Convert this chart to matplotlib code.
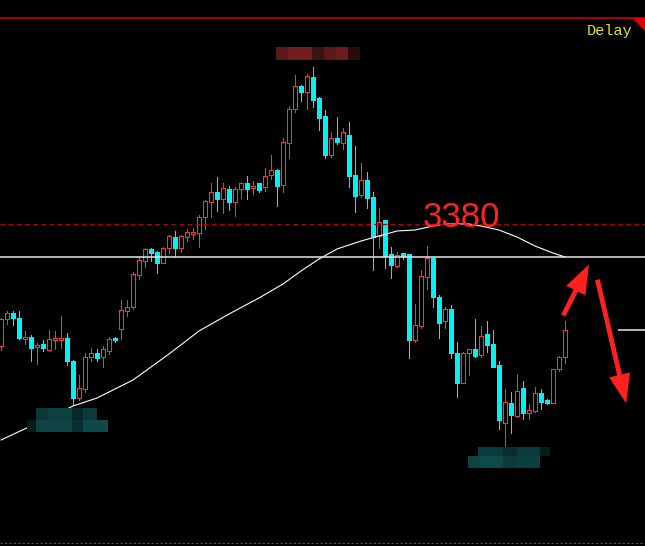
import numpy as np
import matplotlib.pyplot as plt
from matplotlib.patches import Rectangle, Polygon, FancyArrowPatch

############## Dados ####################

opens = [3258, 3285, 3291, 3286, 3265, 3267, 3257, 3260, 3254, 3264,
         3264, 3266, 3243, 3206, 3215, 3247, 3251, 3247, 3253, 3266,
         3275, 3293, 3297, 3329, 3343, 3355, 3352, 3341, 3356, 3367,
         3356, 3367, 3370, 3371, 3387, 3402, 3412, 3405, 3415, 3402,
         3415, 3421, 3416, 3421, 3417, 3429, 3434, 3419, 3461, 3495,
         3518, 3512, 3527, 3506, 3488, 3449, 3466, 3461, 3469, 3429,
         3409, 3424, 3407, 3368, 3384, 3350, 3338, 3351, 3350, 3264,
         3278, 3327, 3346, 3307, 3283, 3295, 3251, 3221, 3251, 3255,
         3249, 3270, 3260, 3239, 3181, 3201, 3188, 3216, 3191, 3193,
         3211, 3204, 3201, 3235, 3247]

highs = [3286, 3293, 3293, 3293, 3273, 3269, 3261, 3264, 3274, 3273,
         3288, 3271, 3244, 3229, 3251, 3256, 3255, 3258, 3267, 3267,
         3304, 3304, 3332, 3347, 3356, 3356, 3353, 3357, 3369, 3373,
         3369, 3375, 3376, 3389, 3404, 3421, 3427, 3421, 3418, 3417,
         3422, 3428, 3423, 3421, 3436, 3449, 3435, 3466, 3498, 3529,
         3519, 3530, 3537, 3507, 3494, 3472, 3487, 3476, 3482, 3458,
         3441, 3432, 3412, 3396, 3384, 3357, 3352, 3351, 3350, 3300,
         3334, 3358, 3347, 3309, 3297, 3299, 3262, 3252, 3255, 3285,
         3278, 3283, 3274, 3243, 3215, 3212, 3230, 3223, 3200, 3217,
         3215, 3205, 3235, 3248, 3283]

lows = [3254, 3280, 3279, 3265, 3260, 3243, 3240, 3253, 3253, 3255,
        3256, 3239, 3199, 3204, 3212, 3243, 3243, 3237, 3250, 3262,
        3265, 3288, 3295, 3325, 3337, 3343, 3331, 3341, 3351, 3348,
        3352, 3363, 3365, 3357, 3375, 3387, 3393, 3391, 3394, 3388,
        3406, 3405, 3410, 3412, 3413, 3425, 3398, 3412, 3446, 3492,
        3503, 3495, 3497, 3474, 3446, 3447, 3460, 3455, 3417, 3392,
        3407, 3396, 3334, 3356, 3336, 3326, 3337, 3345, 3246, 3262,
        3276, 3315, 3297, 3266, 3276, 3246, 3207, 3221, 3229, 3247,
        3247, 3252, 3237, 3175, 3158, 3171, 3187, 3185, 3185, 3192,
        3195, 3200, 3201, 3233, 3241]

closes = [3285, 3291, 3286, 3266, 3267, 3256, 3259, 3256, 3265, 3266,
          3266, 3243, 3206, 3216, 3247, 3251, 3246, 3255, 3265, 3264,
          3294, 3297, 3330, 3344, 3355, 3351, 3341, 3356, 3368, 3356,
          3368, 3372, 3372, 3387, 3403, 3412, 3405, 3416, 3402, 3415,
          3421, 3415, 3418, 3414, 3428, 3434, 3418, 3462, 3495, 3518,
          3512, 3528, 3504, 3486, 3449, 3466, 3462, 3472, 3428, 3408,
          3424, 3406, 3367, 3382, 3348, 3339, 3349, 3348, 3264, 3279,
          3328, 3346, 3307, 3281, 3295, 3251, 3221, 3251, 3255, 3248,
          3268, 3259, 3237, 3184, 3202, 3189, 3213, 3191, 3194, 3211,
          3202, 3201, 3235, 3247, 3274]

# media movel (lida no grafico em algumas barras)
ma_idx = [0, 5, 12, 16, 22, 28, 33, 38, 43, 47, 50, 53, 56, 60, 63, 66,
          69, 72, 74, 78, 80, 83, 86, 89, 92, 94]
ma_val = [3164, 3178, 3198, 3206, 3224, 3250, 3273, 3290, 3306, 3320,
          3333, 3345, 3355, 3363, 3368, 3373, 3374, 3378, 3380, 3380,
          3378, 3374, 3367, 3358, 3351, 3347]

level_label = '3380'
level_dash = 3380
level_white = 3347
level_short = 3274
level_top = 3586
level_bottom = 3061

############## Dados ####################

red = '#ff3434'
cyan = '#00f2f2'

fig = plt.figure(figsize=(6.45, 5.46), dpi=100, facecolor='black')
ax = fig.add_axes([0, 0, 1, 1])
ax.set_facecolor('black')
ax.set_xlim(-1 / 6, 644 / 6)
ax.set_ylim(3058, 3604)
ax.axis('off')

o = np.array(opens)
h = np.array(highs)
l = np.array(lows)
c = np.array(closes)
x = np.arange(len(o))
up = c >= o

############## Velas ####################

ax.vlines(x, l, h, colors=np.where(up, red, cyan), lw=0.72, zorder=2, antialiased=False)
ax.bar(x[up], (c - o)[up], bottom=o[up], width=0.68, facecolor='black',
       edgecolor=red, lw=0.72, zorder=3, antialiased=False)
ax.bar(x[~up], (o - c)[~up], bottom=c[~up], width=0.68, facecolor=cyan,
       edgecolor=cyan, lw=0.72, zorder=3, antialiased=False)

ax.plot(ma_idx, ma_val, color='white', lw=0.8, zorder=4)

############## Linhas ####################

ax.axhline(level_top, color='#c80000', lw=1.2, zorder=5)
ax.add_patch(Polygon([(633 / 645, 1 - 18 / 546), (1, 1 - 18 / 546), (1, 1 - 30 / 546)],
                     closed=True, color='#e00000', transform=ax.transAxes, zorder=5))
ax.axhline(level_dash, color='#b00000', lw=0.9, ls=(0, (4, 2.5)), zorder=5)
ax.axhline(level_white, color='#e6e6e6', lw=1.1, zorder=5)
ax.hlines(level_short, 102.8, 108, color='#e6e6e6', lw=1.1, zorder=5)
ax.axhline(level_bottom, color='#555555', lw=0.8, ls=(0, (2, 2)), zorder=5)

ax.text(0.981, 1 - 31 / 546, 'Delay', transform=ax.transAxes, ha='right', va='center',
        family='Liberation Mono', fontsize=11, color='#e2e22a', zorder=6)
ax.text(70.3, 3377, level_label, ha='left', va='baseline', family='Liberation Sans',
        fontsize=25, color='#ff2222', zorder=6)

############## Setas ####################

for tail, tip in [((93.5, 3286), (98.2, 3342)), ((99.3, 3327), (104.3, 3198))]:
    ax.add_patch(FancyArrowPatch(tail, tip, arrowstyle='simple,head_length=1.5,head_width=1.1,tail_width=0.25',
                                 mutation_scale=14, color='#ff2020', lw=0, zorder=7))

############## Mosaicos (borroes da captura) ####################

blocks = [
    (276, 288, 47, 60, '#5a1818'), (288, 312, 47, 60, '#6e1e1e'), (312, 324, 47, 60, '#3a1212'),
    (324, 336, 47, 60, '#5a1a1a'), (336, 348, 47, 60, '#6a1c1c'), (348, 360, 47, 60, '#2a0a0a'),
    (36, 48, 408, 420, '#0c3838'), (48, 72, 408, 420, '#0e4040'), (72, 83, 408, 420, '#082828'),
    (83, 97, 408, 420, '#0c3a3a'), (27, 36, 420, 432, '#0a1a1a'), (36, 72, 420, 432, '#0e4444'),
    (72, 83, 420, 432, '#083030'), (83, 108, 420, 432, '#0e4848'),
    (478, 503, 447, 456, '#0a3a3a'), (503, 517, 447, 456, '#082e2e'), (517, 540, 447, 456, '#0a3a3a'),
    (540, 550, 447, 456, '#061e1e'), (468, 480, 456, 468, '#0c4444'), (480, 503, 456, 468, '#0e4a4a'),
    (503, 517, 456, 468, '#0a3a3a'), (517, 540, 456, 468, '#0c4040'),
]
for x0, x1, y0, y1, col in blocks:
    ax.add_patch(Rectangle((x0 / 645, 1 - y1 / 546), (x1 - x0) / 645, (y1 - y0) / 546,
                           transform=ax.transAxes, color=col, lw=0, zorder=8))

fig.savefig('out.png', dpi=100, facecolor='black')
